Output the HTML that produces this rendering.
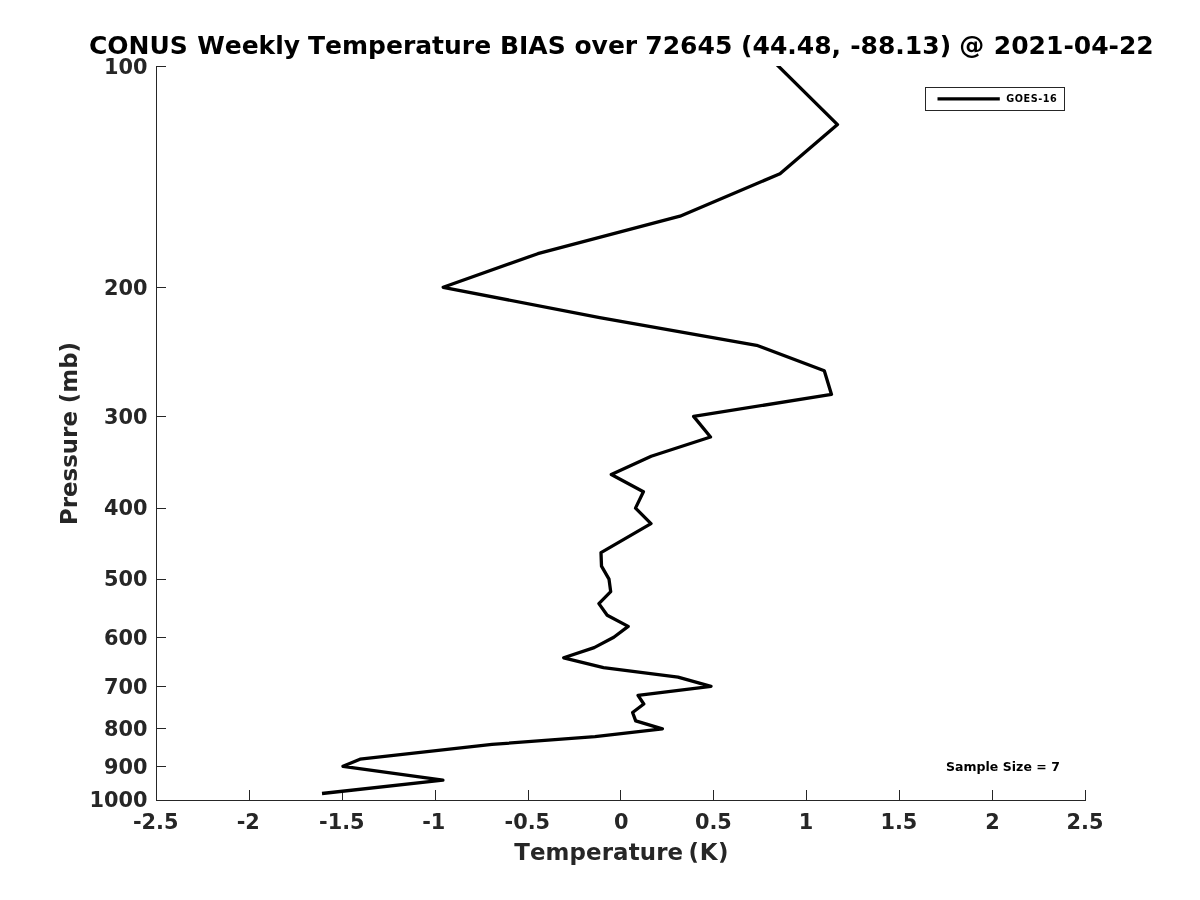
<!DOCTYPE html>
<html lang="en"><head><meta charset="utf-8"><title>CONUS Weekly Temperature BIAS</title>
<style>html,body{margin:0;padding:0;background:#fff;}body{width:1200px;height:900px;overflow:hidden;}svg{display:block;}text{font-family:"DejaVu Sans","Liberation Sans",sans-serif;font-weight:bold;font-kerning:none;font-feature-settings:"kern" 0,"liga" 0;}</style></head><body>
<svg width="1200" height="900" viewBox="0 0 1200 900">
<rect x="0" y="0" width="1200" height="900" fill="#ffffff"/>
<g stroke="#262626" stroke-width="1" fill="none" shape-rendering="crispEdges">
<line x1="156.5" y1="66.0" x2="156.5" y2="801.0"/>
<line x1="156.0" y1="800.5" x2="1086.0" y2="800.5"/>
<line x1="156.5" y1="800.5" x2="156.5" y2="790.0"/>
<line x1="249.5" y1="800.5" x2="249.5" y2="790.0"/>
<line x1="342.5" y1="800.5" x2="342.5" y2="790.0"/>
<line x1="435.5" y1="800.5" x2="435.5" y2="790.0"/>
<line x1="528.5" y1="800.5" x2="528.5" y2="790.0"/>
<line x1="620.5" y1="800.5" x2="620.5" y2="790.0"/>
<line x1="713.5" y1="800.5" x2="713.5" y2="790.0"/>
<line x1="806.5" y1="800.5" x2="806.5" y2="790.0"/>
<line x1="899.5" y1="800.5" x2="899.5" y2="790.0"/>
<line x1="992.5" y1="800.5" x2="992.5" y2="790.0"/>
<line x1="1085.5" y1="800.5" x2="1085.5" y2="790.0"/>
<line x1="156.5" y1="66.5" x2="166.0" y2="66.5"/>
<line x1="156.5" y1="287.5" x2="166.0" y2="287.5"/>
<line x1="156.5" y1="416.5" x2="166.0" y2="416.5"/>
<line x1="156.5" y1="508.5" x2="166.0" y2="508.5"/>
<line x1="156.5" y1="579.5" x2="166.0" y2="579.5"/>
<line x1="156.5" y1="637.5" x2="166.0" y2="637.5"/>
<line x1="156.5" y1="686.5" x2="166.0" y2="686.5"/>
<line x1="156.5" y1="728.5" x2="166.0" y2="728.5"/>
<line x1="156.5" y1="766.5" x2="166.0" y2="766.5"/>
<line x1="156.5" y1="800.5" x2="166.0" y2="800.5"/>
</g>
<g fill="#262626" font-size="20.83px">
<text x="155.7" y="829" text-anchor="middle">-2.5</text>
<text x="248.3" y="829" text-anchor="middle">-2</text>
<text x="341.8" y="829" text-anchor="middle">-1.5</text>
<text x="433.7" y="829" text-anchor="middle">-1</text>
<text x="527.3" y="829" text-anchor="middle">-0.5</text>
<text x="621.2" y="829" text-anchor="middle">0</text>
<text x="713.4" y="829" text-anchor="middle">0.5</text>
<text x="806.0" y="829" text-anchor="middle">1</text>
<text x="898.9" y="829" text-anchor="middle">1.5</text>
<text x="992.6" y="829" text-anchor="middle">2</text>
<text x="1085.0" y="829" text-anchor="middle">2.5</text>
<text x="147.6" y="73.8" text-anchor="end">100</text>
<text x="147.6" y="294.6" text-anchor="end">200</text>
<text x="147.6" y="423.7" text-anchor="end">300</text>
<text x="147.6" y="515.4" text-anchor="end">400</text>
<text x="147.6" y="586.4" text-anchor="end">500</text>
<text x="147.6" y="644.5" text-anchor="end">600</text>
<text x="147.6" y="693.6" text-anchor="end">700</text>
<text x="147.6" y="736.1" text-anchor="end">800</text>
<text x="147.6" y="773.6" text-anchor="end">900</text>
<text x="147.6" y="806.7" text-anchor="end">1000</text>
</g>
<text y="859.5" font-size="22.9px" fill="#262626"><tspan x="514.2" letter-spacing="0.12">Temperature </tspan><tspan x="688.6" letter-spacing="0.6">(K)</tspan></text>
<text transform="translate(77.2,433.5) rotate(-90)" text-anchor="middle" font-size="22.9px" fill="#262626">Pressure (mb)</text>
<text y="53.5" font-size="25px" fill="#000000"><tspan x="89.01">CONUS </tspan><tspan x="197.13">Weekly </tspan><tspan x="308.00">Temperature </tspan><tspan x="500.00">BIAS </tspan><tspan x="574.44">over </tspan><tspan x="645.33">72645 </tspan><tspan x="741.11">(44.48, </tspan><tspan x="850.18">-88.13) </tspan><tspan x="959.33">@ </tspan><tspan x="993.80">2021-04-22</tspan></text>
<clipPath id="ax"><rect x="156" y="66" width="930" height="735"/></clipPath>
<polyline clip-path="url(#ax)" points="775.5,63.3 837.5,124.6 780.0,173.7 680.0,216.2 537.8,253.7 443.2,287.3 599.7,317.6 756.6,345.3 824.3,370.8 831.5,394.4 693.6,416.4 710.5,437.0 651.2,456.3 611.3,474.5 643.4,491.7 635.5,508.1 651.0,523.6 601.0,552.6 601.5,566.1 609.0,579.1 610.7,591.6 598.9,603.6 607.2,615.2 628.2,626.4 613.8,637.2 594.2,647.6 563.7,657.8 603.5,667.6 678.0,677.1 711.0,686.3 638.0,695.3 643.8,704.0 632.6,712.5 635.7,720.8 662.4,728.8 595.0,736.7 492.0,744.4 360.0,759.2 343.0,766.3 442.9,780.2 322.0,793.5" fill="none" stroke="#000000" stroke-width="3.3" stroke-linejoin="round" stroke-linecap="butt"/>
<rect x="925.5" y="87.5" width="139" height="23" fill="#ffffff" stroke="#262626" stroke-width="1" shape-rendering="crispEdges"/>
<line x1="937.5" y1="98.8" x2="999.8" y2="98.8" stroke="#000000" stroke-width="3.3"/>
<text x="1006.2" y="102" font-size="9.7px" letter-spacing="0.55" fill="#000000">GOES-16</text>
<text x="946" y="770.6" font-size="12.5px" letter-spacing="0.03" fill="#000000">Sample Size = 7</text>
</svg></body></html>
